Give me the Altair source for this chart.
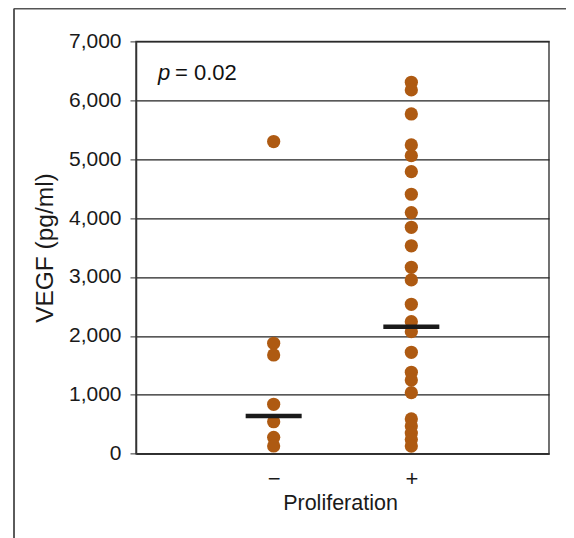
import altair as alt
import pandas as pd

groups = ["−", "+"]
minus_vals = [5300, 1875, 1676, 839, 543, 278, 131]
plus_vals = [6306, 6176, 5768, 5242, 5060, 4788, 4405, 4093, 3844, 3530,
             3165, 2950, 2537, 2241, 2072, 1722, 1382, 1251, 1036,
             590, 470, 350, 240, 130]
medians = [640, 2157]
y_ticks = [0, 1000, 2000, 3000, 4000, 5000, 6000, 7000]

pts = pd.DataFrame({
    "group": [groups[0]] * len(minus_vals) + [groups[1]] * len(plus_vals),
    "vegf": minus_vals + plus_vals,
})
med = pd.DataFrame({"group": groups, "vegf": medians})

W, H = 413, 412.3
FONT = "Liberation Sans"
DOT = "#ae5a12"

x_enc = alt.X(
    "group:N", sort=groups,
    scale=alt.Scale(type="point", padding=1, domain=groups),
    axis=alt.Axis(
        title="Proliferation", labelFontSize=22, labelPadding=15, ticks=False,
        labelAngle=0, grid=False, domainColor="#333", domainWidth=1.5,
        labelColor="#1a1a1a", titleColor="#1a1a1a", titleFontSize=21.5,
        titleFontWeight="normal", titleBaseline="alphabetic",
        titleY=56.3, titleX=204, titleAlign="center",
    ),
)
y_enc = alt.Y(
    "vegf:Q",
    scale=alt.Scale(domain=[0, 7000], nice=False),
    axis=alt.Axis(
        values=y_ticks, format=",.0f", title="VEGF (pg/ml)", titleFontSize=24.5,
        titleFontWeight="normal", titleAngle=270, titleBaseline="alphabetic",
        titleX=-84, titleY=H / 2, titleAlign="center", titleColor="#1a1a1a",
        labelFontSize=21, labelColor="#1a1a1a", tickSize=6, labelPadding=9,
        grid=True, gridColor="#222", gridWidth=1.3, domainColor="#333",
        domainWidth=1.5, tickColor="#333",
    ),
)

points = alt.Chart(pts).mark_circle(size=175, color=DOT, opacity=1).encode(x=x_enc, y=y_enc)
bars = alt.Chart(med).mark_tick(size=56, thickness=4.5, color="#1a1a1a", opacity=1).encode(
    x=alt.X("group:N", sort=groups), y="vegf:Q")

one = pd.DataFrame({"a": [0]})
p_txt = alt.Chart(one).mark_text(
    text="p", font=FONT, fontSize=22, fontStyle="italic", align="left",
    baseline="alphabetic", color="#111").encode(x=alt.value(22), y=alt.value(38.6))
val_txt = alt.Chart(one).mark_text(
    text="= 0.02", font=FONT, fontSize=22, align="left",
    baseline="alphabetic", color="#111").encode(x=alt.value(39), y=alt.value(38.6))

frame_left = alt.Chart(one).mark_rule(color="#333", strokeWidth=1.6).encode(
    x=alt.value(-122), y=alt.value(-33), y2=alt.value(H + 95))
frame_top = alt.Chart(one).mark_rule(color="#555", strokeWidth=1.6).encode(
    x=alt.value(-122), x2=alt.value(W + 20), y=alt.value(-32.6))

chart = alt.layer(points, bars, p_txt, val_txt, frame_left, frame_top).properties(
    width=W, height=H,
    padding={"left": 128, "top": 33.4, "right": 17, "bottom": 84},
    autosize="none",
).configure_view(stroke="#444", strokeWidth=1.5).configure_axis(
    labelFont=FONT, titleFont=FONT)

chart.save("out.html", embed_options={"renderer": "svg", "actions": False})
